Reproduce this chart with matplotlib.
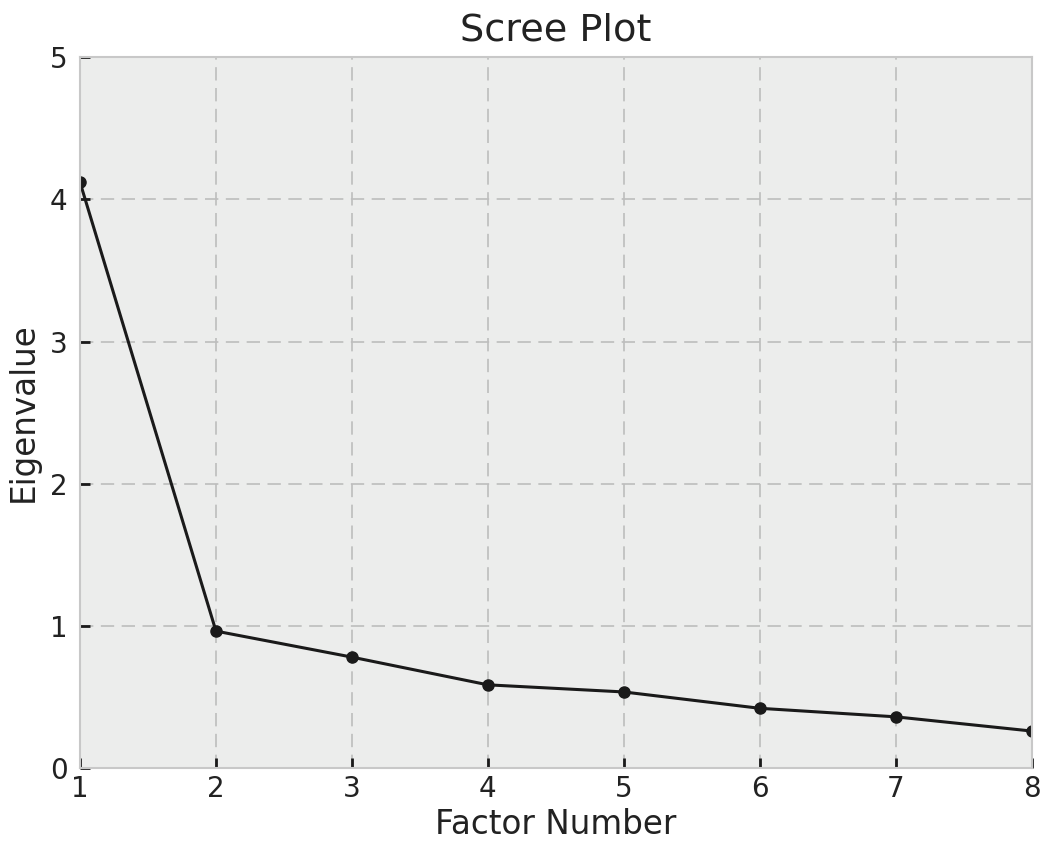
import matplotlib
matplotlib.use("Agg")
from matplotlib import pyplot as plt

# factor numbers and eigenvalues
factors = [1, 2, 3, 4, 5, 6, 7, 8]
eigenvalues = [4.12, 0.963, 0.78, 0.585, 0.535, 0.42, 0.36, 0.26]

plt.style.use("bmh")

fig = plt.figure(figsize=(10.42, 8.41), dpi=100)
ax = fig.add_axes([0.0768, 0.0868, 0.9132, 0.8452])
ax.set_facecolor("#ecedec")
for sp in ax.spines.values():
    sp.set_color("#c8c8c8")
    sp.set_linewidth(1.5)

ax.plot(factors, eigenvalues, color="#1a1a1a", linewidth=2.2,
        marker="o", markersize=8)

ax.set_xlim(1, 8)
ax.set_ylim(0, 5)
ax.set_xticks(factors)
ax.set_yticks([0, 1, 2, 3, 4, 5])
ax.grid(True, color="#bdbdbd", linestyle=(0, (8, 4.5)), linewidth=1.2)
ax.tick_params(direction="in", length=7, width=2, color="#1a1a1a",
               labelsize=20, labelcolor="#222222")
ax.tick_params(axis="x", pad=5)
ax.tick_params(axis="y", pad=9)

ax.set_title("Scree Plot", fontsize=27.5, color="#222222", pad=12)
ax.set_xlabel("Factor Number", fontsize=23.5, color="#222222", labelpad=3.5)
ax.set_ylabel("Eigenvalue", fontsize=23.5, color="#222222", labelpad=7)

fig.savefig("out.png", dpi=100)
